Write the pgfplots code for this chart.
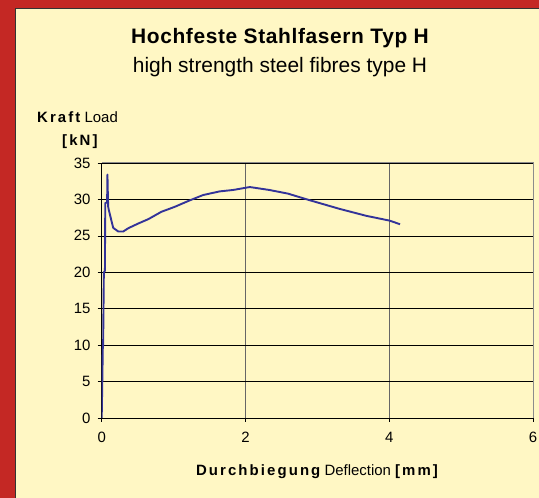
\documentclass[border=0pt]{standalone}
\usepackage{fontspec}
\setmainfont{Liberation Sans}
\newfontfamily\lsfont[LetterSpace=14]{Liberation Sans}
\newfontfamily\tfont[LetterSpace=3]{Liberation Sans}
\usepackage{pgfplots}
\pgfplotsset{compat=1.18}
\definecolor{bgred}{RGB}{196,40,36}
\definecolor{bgyel}{RGB}{255,247,196}
\definecolor{curve}{RGB}{51,51,153}
\begin{document}
\begin{tikzpicture}[x=1bp,y=1bp]
\useasboundingbox (0,0) rectangle (539,498);
\fill[bgred] (0,0) rectangle (539,498);
\fill[bgyel] (16,0) rectangle (539,489);
\draw[black!80, line width=1.2bp] (15.6,0) -- (15.6,489.4) -- (539,489.4);
\node[anchor=base, inner sep=0pt, font=\tfont\bfseries\fontsize{21}{25}\selectfont] at (280,454) {Hochfeste Stahlfasern Typ H};
\node[anchor=base, inner sep=0pt, font=\fontsize{21}{25}\selectfont] at (280,425.5) {high strength steel fibres type H};
\node[anchor=base west, inner sep=0pt, font=\fontsize{15}{18}\selectfont] at (37,375) {{\lsfont\bfseries Kraft} Load};
\node[anchor=base west, inner sep=0pt, font=\fontsize{15}{18}\selectfont] at (62,352) {{\lsfont\bfseries [kN]}};
\node[anchor=base, inner sep=0pt, font=\fontsize{15}{18}\selectfont] at (317,22) {{\lsfont\bfseries Durchbiegung} Deflection {\lsfont\bfseries [mm]}};
\begin{axis}[
  at={(101.7bp,80bp)}, anchor=origin,
  width=431.3bp, height=255bp, scale only axis,
  xmin=0, xmax=6, ymin=0, ymax=35,
  xtick={0,2,4,6}, ytick={0,5,...,35},
  axis x line*=bottom, axis y line*=left,
  axis line style={black, line width=0.9bp, -},
  tick align=outside, major tick length=4bp,
  tick style={black, line width=0.7bp},
  xmajorgrids, ymajorgrids,
  y grid style={black, line width=0.7bp},
  x grid style={black!60, line width=0.9bp},
  ticklabel style={font=\fontsize{15}{18}\selectfont},
  /pgf/number format/assume math mode=true,
  yticklabel style={inner sep=0pt, xshift=-7bp},
  xticklabel style={inner sep=0pt, yshift=-10bp},
  after end axis/.code={\draw[black!45, line width=1bp] (rel axis cs:0,1) -- (rel axis cs:1,1) -- (rel axis cs:1,0);},
]
\addplot[curve, line width=1.9bp, line join=round] coordinates {
(0,0) (0.005,3) (0.01,6) (0.015,9.5) (0.02,10) (0.025,15) (0.03,20) (0.045,20.2)
(0.047,25) (0.05,29.5) (0.075,29.6) (0.08,33.4) (0.085,31) (0.09,29) (0.1,28.5)
(0.115,27.9) (0.16,26.1) (0.23,25.6) (0.30,25.6) (0.37,26.05) (0.51,26.7)
(0.65,27.3) (0.83,28.3) (1.02,29.0) (1.22,29.85) (1.41,30.6) (1.64,31.1)
(1.83,31.3) (2.06,31.7) (2.33,31.3) (2.59,30.8) (2.89,29.9) (3.31,28.7)
(3.68,27.75) (4.0,27.1) (4.15,26.6)
};
\end{axis}
\end{tikzpicture}
\end{document}
